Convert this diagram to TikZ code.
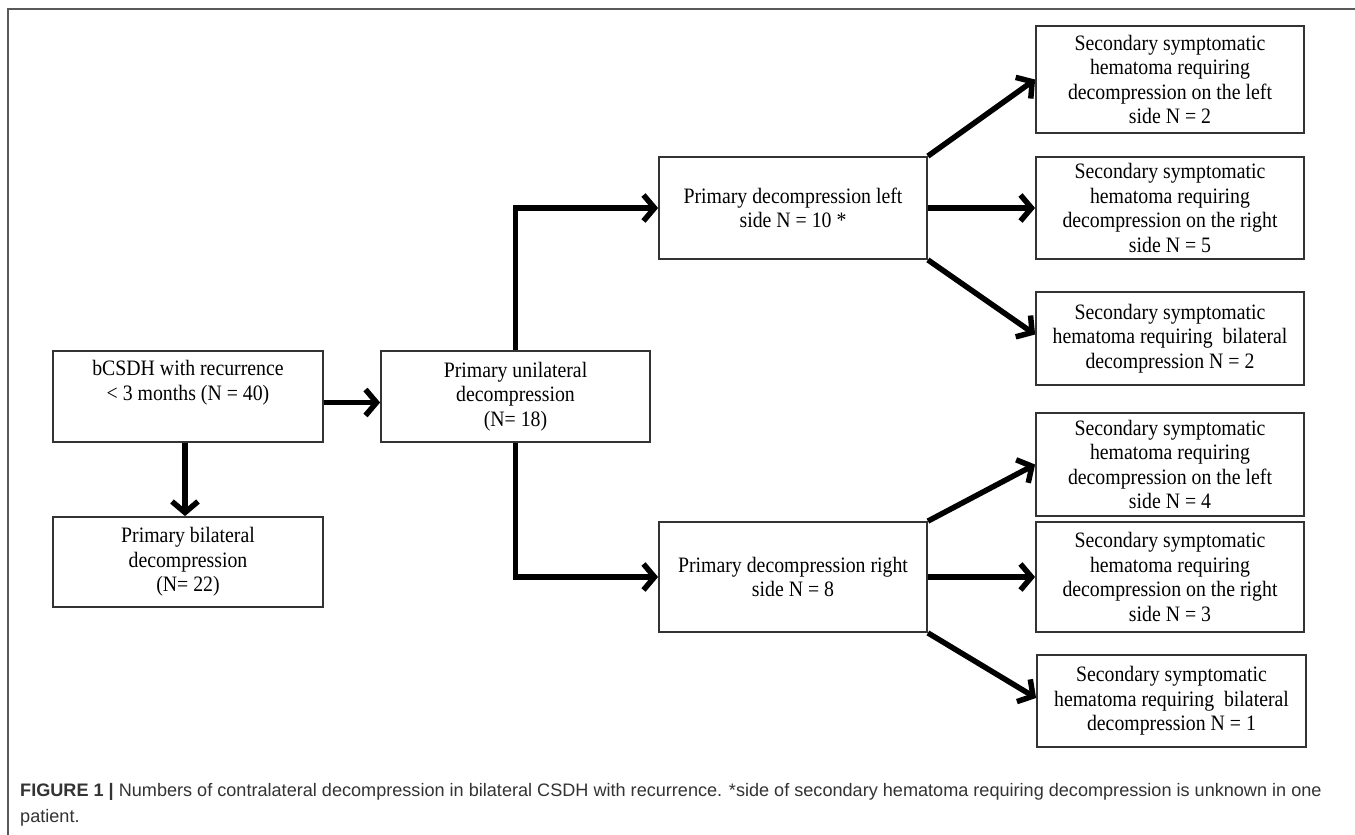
\documentclass[tikz,border=0pt]{standalone}
\usepackage{fontspec}
\setmainfont{Liberation Serif}[FakeStretch=0.9]
\newfontfamily\capfont{Liberation Sans}
\usetikzlibrary{arrows.meta}
\begin{document}
\begin{tikzpicture}[x=1pt,y=-1pt,
  box/.style={draw=black!80, line width=1.8pt, inner sep=0pt, align=center,
    font=\fontsize{22}{24.5}\selectfont, fill=white},
  arr/.style={line width=5.5pt, -{Straight Barb[length=11pt,width=26pt]}},
  captxt/.style={anchor=base west, inner sep=0pt, text=black!80,
    font=\capfont\fontsize{18.1}{22}\selectfont}
]
\useasboundingbox (0,0) rectangle (1355,835);
\fill[white] (0,0) rectangle (1355,835);
\draw[black!65, line width=1.5pt] (8,835) -- (8,9) -- (1355,9);

% left column
\node[box, minimum width=270pt, minimum height=91pt] (bcsdh) at (188,396.5)
  {bCSDH with recurrence\\< 3 months (N = 40)\\ \strut};
\node[box, minimum width=270pt, minimum height=90pt] (bilat) at (188,562)
  {Primary bilateral\\decompression\\(N= 22)};
% middle
\node[box, minimum width=269pt, minimum height=91pt] (uni) at (515.5,396.5)
  {Primary unilateral\\decompression\\(N= 18)};
\node[box, minimum width=268pt, minimum height=102pt] (leftp) at (793,208)
  {Primary decompression left\\side N = 10 *};
\node[box, minimum width=268pt, minimum height=110pt] (rightp) at (793,577)
  {Primary decompression right\\side N = 8};
% right column
\node[box, minimum width=268pt, minimum height=107pt] (s1) at (1170,79.5)
  {Secondary symptomatic\\hematoma requiring\\decompression on the left\\side N = 2};
\node[box, minimum width=268pt, minimum height=102pt] (s2) at (1170,208)
  {Secondary symptomatic\\hematoma requiring\\decompression on the right\\side N = 5};
\node[box, minimum width=268pt, minimum height=93pt] (s3) at (1170,338.5)
  {Secondary symptomatic\\hematoma requiring~ bilateral\\decompression N = 2};
\node[box, minimum width=268pt, minimum height=103pt] (s4) at (1170,464.5)
  {Secondary symptomatic\\hematoma requiring\\decompression on the left\\side N = 4};
\node[box, minimum width=268pt, minimum height=110pt] (s5) at (1170,577)
  {Secondary symptomatic\\hematoma requiring\\decompression on the right\\side N = 3};
\node[box, minimum width=269pt, minimum height=92pt] (s6) at (1171.5,701)
  {Secondary symptomatic\\hematoma requiring~ bilateral\\decompression N = 1};

% connectors
\draw[arr] ([yshift=-6pt]bcsdh.east) -- ([yshift=-6pt]uni.west);
\draw[arr] ([xshift=-3pt]bcsdh.south) -- ([xshift=-3pt]bilat.north);
\draw[arr] (uni.north) |- (leftp.west);
\draw[arr] (uni.south) |- (rightp.west);
\draw[arr] (leftp.north east) -- (s1.west);
\draw[arr] (leftp.east) -- (s2.west);
\draw[arr] (leftp.south east) -- ([yshift=4pt]s3.west);
\draw[arr] (rightp.north east) -- (s4.west);
\draw[arr] (rightp.east) -- (s5.west);
\draw[arr] (rightp.south east) -- ([yshift=3pt]s6.west);

% caption
\node[captxt] (cap1) at (20,796) {\textbf{FIGURE 1 |} Numbers of contralateral decompression in bilateral CSDH with recurrence. *side of secondary hematoma requiring decompression is unknown in one};
\node[captxt] (cap2) at (20,822) {patient.};
\end{tikzpicture}
\end{document}
